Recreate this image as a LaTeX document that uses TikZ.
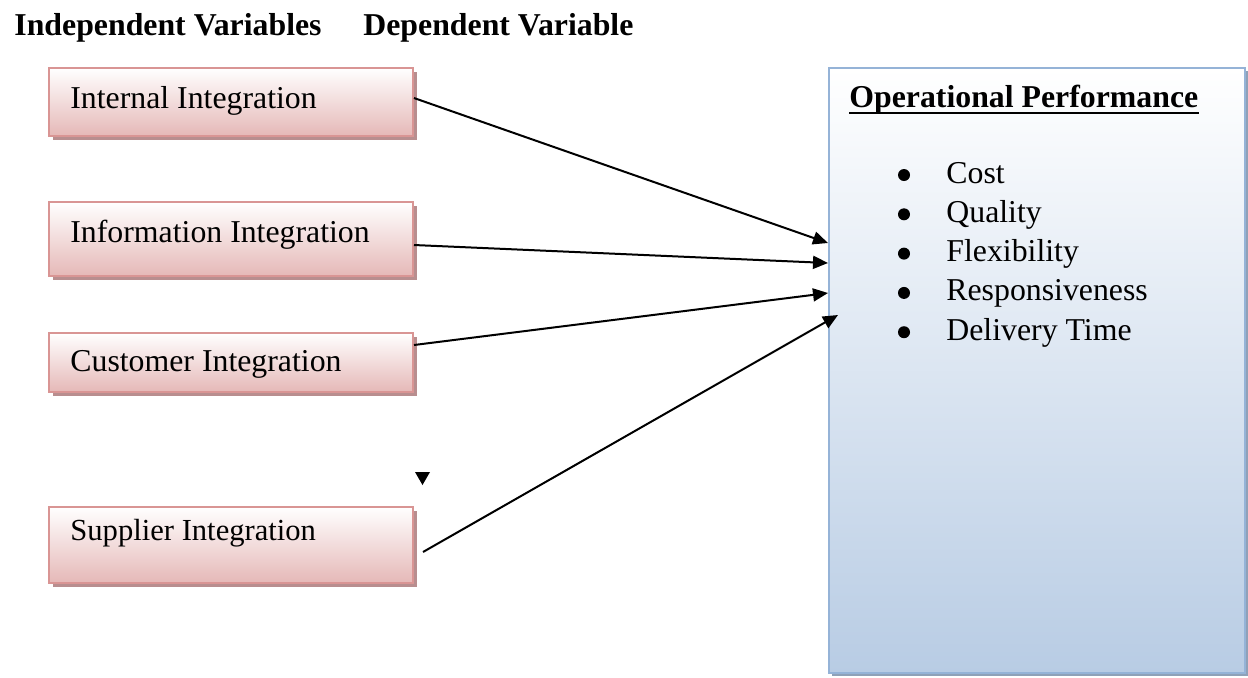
\documentclass[tikz,border=0pt]{standalone}
\usepackage{fontspec}
\setmainfont{Liberation Serif}
\usetikzlibrary{arrows.meta,calc,shadows}

\definecolor{pinkline}{HTML}{D99594}
\definecolor{pinkbot}{HTML}{E5B8B7}
\definecolor{pinkshade}{HTML}{B88E8F}
\definecolor{blueline}{HTML}{95B3D7}
\definecolor{bluebot}{HTML}{B8CCE4}
\definecolor{blueshade}{HTML}{8FA1B8}

\begin{document}
\begin{tikzpicture}[x=0.5pt,y=-0.5pt,
  every node/.style={inner sep=0pt, font=\fontsize{15.9}{19}\selectfont},
  varbox/.style={draw=pinkline, line width=1pt, top color=white, bottom color=pinkbot,
    minimum width=182pt, anchor=north west,
    drop shadow={shadow xshift=2pt, shadow yshift=-2pt, fill=pinkshade, opacity=1}},
  perfbox/.style={draw=blueline, line width=1pt, top color=white, bottom color=bluebot,
    minimum width=208pt, minimum height=302.5pt, anchor=north west,
    drop shadow={shadow xshift=1.5pt, shadow yshift=-1.5pt, fill=blueshade, opacity=1}},
  label/.style={anchor=base west},
  heading/.style={anchor=base west, font=\bfseries\fontsize{15.9}{19}\selectfont},
  dot/.style={circle, fill=black, minimum size=6pt, outer sep=0pt},
  arr/.style={-{Triangle[length=7.5pt,width=6.5pt]}, line width=1pt, black}
]
\fill[white] (0,0) rectangle (1248,677);
\useasboundingbox (0,0) rectangle (1248,677);

% column headings
\node[heading, anchor=base east] (hindep) at (322,35) {Independent Variables};
\node[heading] (hdep) at (363,35) {Dependent Variable};

% independent variables
\node[varbox, minimum height=34pt]   (b1) at (48,67)  {};
\node[varbox, minimum height=37pt]   (b2) at (48,201) {};
\node[varbox, minimum height=29.5pt] (b3) at (48,332) {};
\node[varbox, minimum height=38pt]   (b4) at (48,506) {};

\node[label] (t1) at (70,108) {Internal Integration};
\node[label] (t2) at (70,242) {Information Integration};
\node[label] (t3) at (70,371) {Customer Integration};
\node[label, font=\fontsize{15.3}{18}\selectfont] (t4) at (70,540) {Supplier Integration};

% dependent variable
\node[perfbox] (op) at (828,67) {};
\node[heading] (ophead) at (849,107) {Operational Performance};
\draw[line width=1.2pt] ($(ophead.base west)+(0,6)$) -- ($(ophead.base east)+(0,6)$);

\foreach \item [count=\i] in {Cost,Quality,Flexibility,Responsiveness,Delivery Time} {
  \node[dot] (dot\i) at (904,{175+(\i-1)*39.3}) {};
  \node[label] (item\i) at (946,{183+(\i-1)*39.3}) {\item};
}

% stray marker above the last box
\coordinate (mk) at (422.5,472);
\fill ($(mk)+(-7.5,0)$) -- ($(mk)+(7.5,0)$) -- ($(mk)+(0,13)$) -- cycle;

% links
\draw[arr] ($(b1.north east)+(0,31)$) -- ($(op.north west)+(0,176)$);
\draw[arr] ($(b2.north east)+(0,44)$) -- ($(op.north west)+(0,196)$);
\draw[arr] ($(b3.north east)+(0,13)$) -- ($(op.north west)+(0,226)$);
\draw[arr] ($(b4.north east)+(9,46)$) -- ($(op.north west)+(10,248)$);
\end{tikzpicture}
\end{document}
